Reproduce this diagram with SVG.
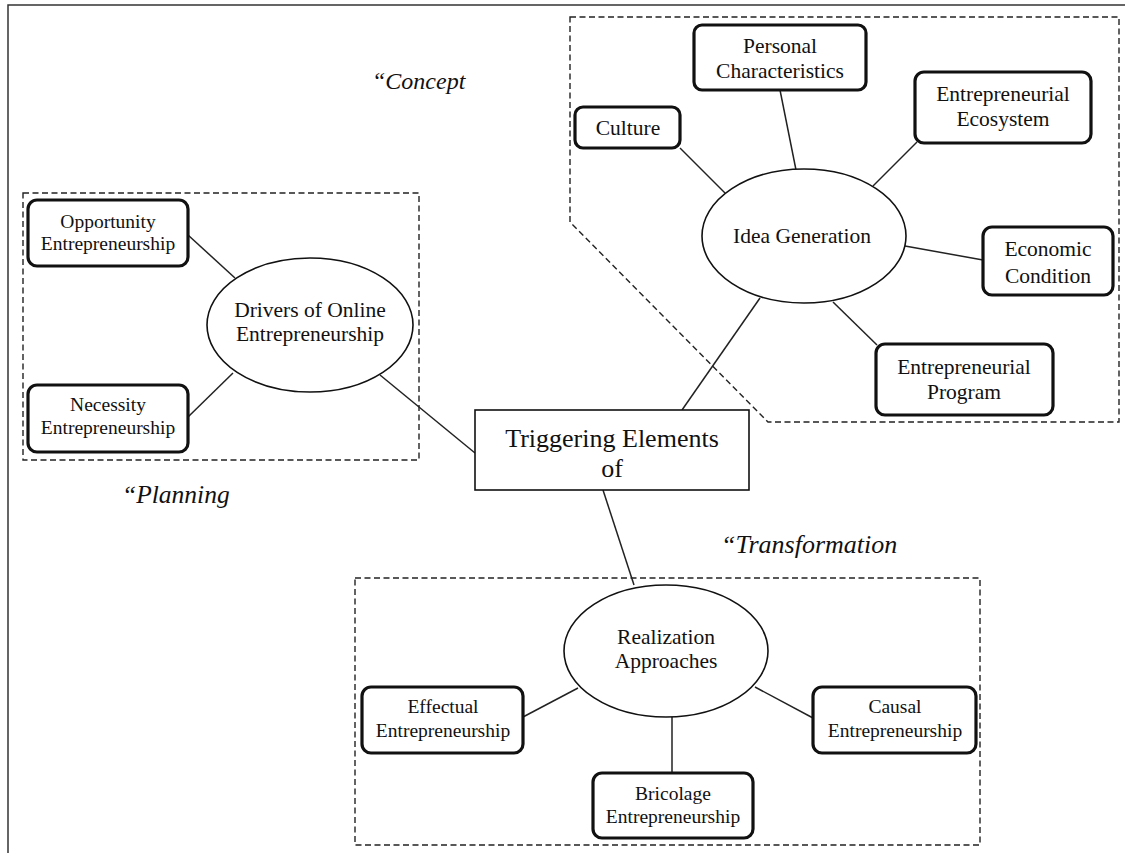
<svg xmlns="http://www.w3.org/2000/svg" width="1125" height="853" viewBox="0 0 1125 853">
<style>
.frame{fill:none;stroke:#333;stroke-width:1.5}
.grp{fill:none;stroke:#222;stroke-width:1.4;stroke-dasharray:6 3.5}
.box{fill:#fff;stroke:#111;stroke-width:3.2}
.ell{fill:#fff;stroke:#111;stroke-width:1.6}
.main{fill:#fff;stroke:#111;stroke-width:1.6}
.con{stroke:#222;stroke-width:1.5;fill:none}
text{font-family:"Liberation Serif","Times New Roman",serif;fill:#111;text-anchor:middle}
.s{font-size:19.5px}
.m{font-size:21.5px}
.l{font-size:26px}
.it{font-style:italic;font-size:24px;text-anchor:start}
</style>
<rect width="1125" height="853" fill="#fff"/>
<path class="frame" d="M8,853 V5 H1125"/>
<g id="groups">
<path class="grp" d="M570,17 H1119 V422 H768 L570,222 Z"/>
<rect class="grp" x="23" y="193" width="396" height="267"/>
<rect class="grp" x="355" y="578" width="625" height="267"/>
</g>
<g id="labels">
<text class="it" x="372" y="89">“Concept</text>
<text class="it" x="122" y="503" style="font-size:25.5px">“Planning</text>
<text class="it" x="721" y="553" style="font-size:26px">“Transformation</text>
</g>
<g id="connectors">
<line class="con" x1="680" y1="148" x2="725" y2="193"/>
<line class="con" x1="780" y1="90" x2="796" y2="170"/>
<line class="con" x1="917" y1="142" x2="873" y2="186"/>
<line class="con" x1="905" y1="246" x2="983" y2="260"/>
<line class="con" x1="833" y1="302" x2="877" y2="345"/>
<line class="con" x1="760" y1="298" x2="682" y2="410"/>
<line class="con" x1="188" y1="235" x2="235" y2="278"/>
<line class="con" x1="188" y1="417" x2="233" y2="373"/>
<line class="con" x1="380" y1="375" x2="475" y2="453"/>
<line class="con" x1="603" y1="490" x2="634" y2="585"/>
<line class="con" x1="523" y1="717" x2="578" y2="688"/>
<line class="con" x1="672" y1="717" x2="672" y2="773"/>
<line class="con" x1="755" y1="687" x2="813" y2="718"/>
</g>
<g id="triggering">
<rect class="main" x="475" y="410" width="274" height="80"/>
<text class="l" x="612" y="447">Triggering Elements</text>
<text class="l" x="612" y="477">of</text>
</g>
<g id="idea-generation">
<ellipse class="ell" cx="804" cy="236" rx="102" ry="67"/>
<text class="m" x="802" y="243">Idea Generation</text>
</g>
<g id="culture">
<rect class="box" x="575" y="107" width="105" height="41" rx="8"/>
<text class="m" x="628" y="135">Culture</text>
</g>
<g id="personal-characteristics">
<rect class="box" x="694" y="25" width="172" height="65" rx="8"/>
<text class="m" x="780" y="53">Personal</text>
<text class="m" x="780" y="78">Characteristics</text>
</g>
<g id="entrepreneurial-ecosystem">
<rect class="box" x="915" y="72" width="176" height="71" rx="9"/>
<text class="m" x="1003" y="101">Entrepreneurial</text>
<text class="m" x="1003" y="126">Ecosystem</text>
</g>
<g id="economic-condition">
<rect class="box" x="983" y="227" width="130" height="68" rx="9"/>
<text class="m" x="1048" y="256">Economic</text>
<text class="m" x="1048" y="283">Condition</text>
</g>
<g id="entrepreneurial-program">
<rect class="box" x="876" y="344" width="177" height="71" rx="9"/>
<text class="m" x="964" y="374">Entrepreneurial</text>
<text class="m" x="964" y="399">Program</text>
</g>
<g id="drivers">
<ellipse class="ell" cx="310" cy="325" rx="103" ry="67"/>
<text class="m" x="310" y="317">Drivers of Online</text>
<text class="m" x="310" y="341">Entrepreneurship</text>
</g>
<g id="opportunity">
<rect class="box" x="28" y="200" width="160" height="66" rx="9"/>
<text class="s" x="108" y="228">Opportunity</text>
<text class="s" x="108" y="250">Entrepreneurship</text>
</g>
<g id="necessity">
<rect class="box" x="28" y="385" width="160" height="67" rx="9"/>
<text class="s" x="108" y="411">Necessity</text>
<text class="s" x="108" y="434">Entrepreneurship</text>
</g>
<g id="realization">
<ellipse class="ell" cx="666" cy="651" rx="102" ry="66"/>
<text class="m" x="666" y="644">Realization</text>
<text class="m" x="666" y="668">Approaches</text>
</g>
<g id="effectual">
<rect class="box" x="362" y="687" width="161" height="66" rx="9"/>
<text class="s" x="443" y="713">Effectual</text>
<text class="s" x="443" y="737">Entrepreneurship</text>
</g>
<g id="bricolage">
<rect class="box" x="593" y="773" width="160" height="65" rx="9"/>
<text class="s" x="673" y="800">Bricolage</text>
<text class="s" x="673" y="823">Entrepreneurship</text>
</g>
<g id="causal">
<rect class="box" x="813" y="687" width="163" height="66" rx="9"/>
<text class="s" x="895" y="737">Entrepreneurship</text>
<text class="s" x="895" y="713">Causal</text>
</g>
</svg>
